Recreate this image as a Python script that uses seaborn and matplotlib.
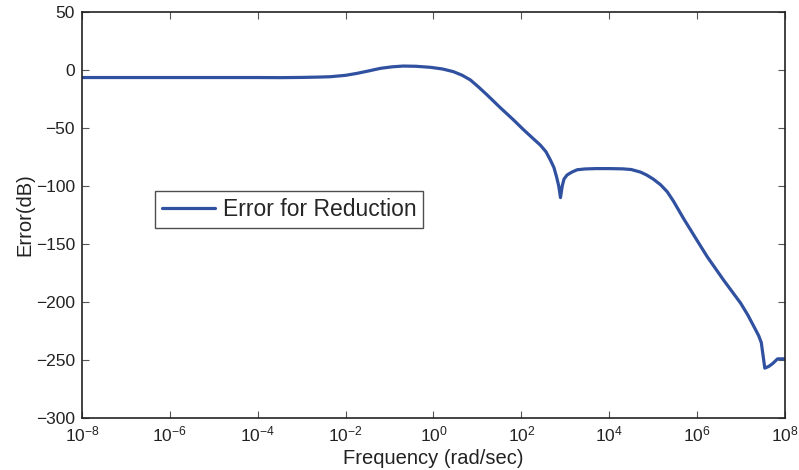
import numpy as np
import pandas as pd
import matplotlib
matplotlib.use("Agg")
import matplotlib.pyplot as plt
import matplotlib.ticker as mticker
import seaborn as sns

# Frequency (as log10 of rad/sec) and error values
log_freq = [-8, -6, -4, -3.49, -3.0, -2.6, -2.35, -2.0, -1.74, -1.45, -1.21,
            -0.95, -0.69, -0.4, -0.07, 0.2, 0.45, 0.65, 0.84, 1.02, 1.22,
            1.52, 1.82, 2.05, 2.25, 2.43, 2.56, 2.66, 2.74, 2.80, 2.85, 2.89,
            2.93, 2.97, 3.04, 3.15, 3.27, 3.45, 3.7, 4.0, 4.3, 4.5, 4.71,
            4.85, 5.0, 5.17, 5.32, 5.46, 5.69, 6.0, 6.23, 6.6, 6.99, 7.15,
            7.29, 7.4, 7.46, 7.54, 7.63, 7.72, 7.83, 8.0]
error_db = [-6.5, -6.5, -6.5, -6.6, -6.4, -6.1, -5.8, -4.6, -2.9, -0.6, 1.4,
            2.7, 3.4, 3.2, 2.3, 0.9, -1.4, -4.5, -8.6, -14.5, -21.5,
            -32.5, -43, -51.5, -58.5, -64.7, -70.5, -77.6, -84, -92, -100, -110,
            -100, -94, -90.5, -88, -86, -85.3, -85, -85, -85.2, -85.8, -88,
            -90.5, -94, -99, -105, -113, -128, -147, -161, -181, -201, -211,
            -221, -229, -235, -257, -255.5, -253, -249, -249]

x_ticks = [1e-8, 1e-6, 1e-4, 1e-2, 1e0, 1e2, 1e4, 1e6, 1e8]
x_tick_labels = ["$10^{-8}$", "$10^{-6}$", "$10^{-4}$", "$10^{-2}$", "$10^{0}$",
                 "$10^{2}$", "$10^{4}$", "$10^{6}$", "$10^{8}$"]
y_ticks = [-300, -250, -200, -150, -100, -50, 0, 50]

df = pd.DataFrame({"freq": np.power(10.0, log_freq), "error": error_db})

sns.set_style("ticks")
plt.rcParams["font.family"] = ["Liberation Sans", "DejaVu Sans"]
plt.rcParams["mathtext.fontset"] = "custom"
plt.rcParams["mathtext.rm"] = "Liberation Sans"
plt.rcParams["mathtext.it"] = "Liberation Sans"
plt.rcParams["mathtext.default"] = "regular"

fig = plt.figure(figsize=(7.99, 4.70), dpi=100)
ax = fig.add_axes([0.1026, 0.1106, 0.8799, 0.8639])

sns.lineplot(data=df, x="freq", y="error", ax=ax, color="#3050a0",
             linewidth=2.3, label="Error for Reduction", sort=False)

ax.set_xscale("log")
ax.set_xlim(1e-8, 1e8)
ax.set_ylim(-300, 50)
ax.set_xticks(x_ticks)
ax.set_xticklabels(x_tick_labels)
ax.xaxis.set_minor_locator(mticker.NullLocator())
ax.set_yticks(y_ticks)

ax.tick_params(axis="both", which="both", direction="in", top=True, right=True,
               labelsize=12.5, length=5, width=0.8, color="#555555", pad=5,
               labelcolor="#222222")
for side in ax.spines.values():
    side.set_linewidth(1.2)
    side.set_color("#222222")

ax.set_xlabel("Frequency (rad/sec)", fontsize=14.5, color="#222222", labelpad=3)
ax.set_ylabel("Error(dB)", fontsize=14.5, color="#222222", labelpad=1)

leg = ax.legend(loc="center left", bbox_to_anchor=(0.104, 0.513), fontsize=16.5,
                frameon=True, fancybox=False, handlelength=2.3,
                borderpad=0.3, handletextpad=0.35, borderaxespad=0)
leg.get_frame().set_edgecolor("#222222")
leg.get_frame().set_linewidth(1.0)

fig.savefig("out.png", dpi=100)
plt.close(fig)
